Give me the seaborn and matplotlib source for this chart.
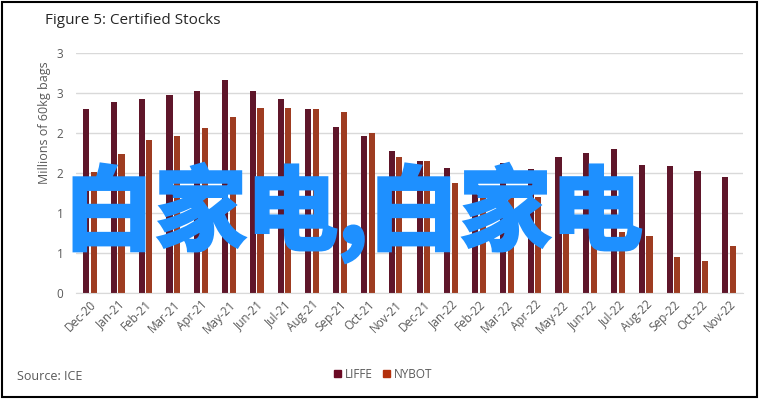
import matplotlib
matplotlib.use("Agg")
import matplotlib.pyplot as plt
import matplotlib.patches as mpatches
import matplotlib.patheffects as pe
import seaborn as sns
import pandas as pd

months = ["Dec-20", "Jan-21", "Feb-21", "Mar-21", "Apr-21", "May-21", "Jun-21", "Jul-21",
          "Aug-21", "Sep-21", "Oct-21", "Nov-21", "Dec-21", "Jan-22", "Feb-22", "Mar-22",
          "Apr-22", "May-22", "Jun-22", "Jul-22", "Aug-22", "Sep-22", "Oct-22", "Nov-22"]
liffe = [2.30, 2.39, 2.43, 2.48, 2.52, 2.66, 2.52, 2.43, 2.30, 2.08, 1.96, 1.77,
         1.65, 1.56, 1.52, 1.62, 1.55, 1.70, 1.75, 1.80, 1.60, 1.59, 1.52, 1.45]
nybot = [1.51, 1.74, 1.91, 1.96, 2.06, 2.20, 2.31, 2.31, 2.30, 2.26, 2.00, 1.70,
         1.65, 1.38, 1.30, 1.20, 1.20, 1.00, 0.90, 0.76, 0.71, 0.45, 0.40, 0.59]
yticks = [0, 0.5, 1.0, 1.5, 2.0, 2.5, 3.0]
yticklabels = ["0", "1", "1", "2", "2", "3", "3"]

df = pd.DataFrame({
    "month": months * 2,
    "value": liffe + nybot,
    "market": ["LIFFE"] * len(months) + ["NYBOT"] * len(months),
})

sns.set_style("white")
plt.rcParams["font.family"] = ["Open Sans", "DejaVu Sans"]

grey = "#595959"
colors = {"LIFFE": "#6B0A24", "NYBOT": "#B3300C"}

fig = plt.figure(figsize=(7.6, 3.99), dpi=100)
ax = fig.add_axes([76 / 760, 1 - 293 / 399, 667 / 760, 240 / 399])

sns.barplot(data=df, x="month", y="value", hue="market", order=months,
            hue_order=["LIFFE", "NYBOT"], palette=colors, width=0.55, gap=0.2,
            linewidth=0, ax=ax, legend=False)

ax.set_xlim(-0.5, len(months) - 0.5)
ax.set_ylim(0, 3)
ax.set_yticks(yticks)
ax.set_yticklabels(yticklabels)
ax.yaxis.grid(True, color="#D9D9D9", linewidth=1)
ax.set_axisbelow(True)
for s in ["top", "right", "left"]:
    ax.spines[s].set_visible(False)
ax.spines["bottom"].set_color("#D9D9D9")
ax.tick_params(axis="both", length=0, colors=grey, labelsize=8.5)
ax.tick_params(axis="y", pad=9)
plt.setp(ax.get_xticklabels(), rotation=45, ha="right", rotation_mode="anchor")
ax.set_xlabel("")
ax.set_ylabel("Millions of 60kg bags", fontsize=9, color=grey)
ax.yaxis.set_label_coords(-0.038, 0.71)

fig.text(45 / 760, 1 - 21 / 399, "Figure 5: Certified Stocks", fontsize=11,
         color="#262626", va="center", ha="left")
fig.text(17 / 760, 1 - 376 / 399, "Source: ICE", fontsize=9, color=grey,
         va="center", ha="left")

handles = [mpatches.Patch(color=colors[k], label=k) for k in ["LIFFE", "NYBOT"]]
fig.legend(handles=handles, loc="center", bbox_to_anchor=(383 / 760, 1 - 374 / 399),
           ncol=2, frameon=False, fontsize=8.5, labelcolor=grey, handlelength=0.6,
           handleheight=0.6, handletextpad=0.3, columnspacing=0.9)

fig.text(63 / 760, 1 - 213 / 399, "白家电,白家电", fontsize=66, color="#1E90FF",
         family=["Noto Sans CJK SC", "DejaVu Sans"], weight="bold",
         ha="left", va="center",
         path_effects=[pe.withStroke(linewidth=2.5, foreground="#1E90FF",
                                     joinstyle="miter", capstyle="projecting")])

fig.patches.append(mpatches.Rectangle((0.002, 0.004), 0.994, 0.991, transform=fig.transFigure,
                                      fill=False, edgecolor="black", linewidth=1.5))

fig.savefig("out.png", dpi=100)
